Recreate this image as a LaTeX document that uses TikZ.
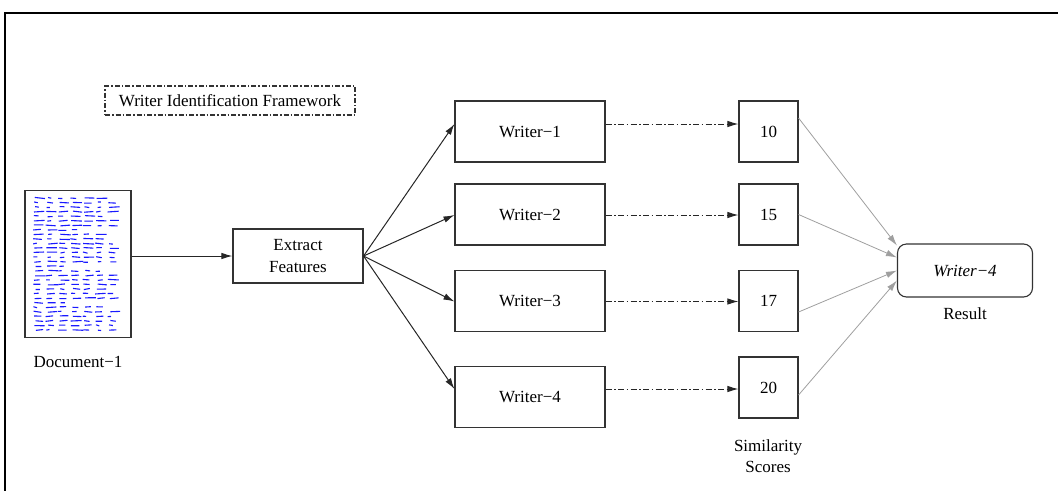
\documentclass[tikz,border=0pt]{standalone}
\usepackage{fontspec}
\setmainfont{Liberation Serif}
\usetikzlibrary{arrows.meta,calc}
\begin{document}
\begin{tikzpicture}[x=1pt,y=-1pt,
  box/.style={draw=black!80,line width=1.1pt,rectangle,inner sep=0pt,font=\fontsize{17}{22}\selectfont,align=center},
  lbl/.style={font=\fontsize{17}{21}\selectfont,align=center,inner sep=0pt},
  arr/.style={-{Latex[length=11pt,width=6.5pt]},line width=1pt,black!85},
  dd/.style={arr,dash pattern=on 6pt off 2.5pt on 1.5pt off 2.5pt},
  gry/.style={-{Latex[length=11pt,width=6.5pt]},line width=0.8pt,gray!75}
]
\useasboundingbox (0,0) rectangle (1058,491);
% frame
\draw[line width=2.6pt] (1058,13) -- (5,13) -- (5,491);
% title
\node[box,dash pattern=on 5pt off 2pt on 1.5pt off 2pt,minimum width=250pt,minimum height=29pt] (title) at (230,100.5) {Writer Identification Framework};
% document
\node[box,fill=white,minimum width=106pt,minimum height=147pt] (doc) at (78,264) {};
\pgfmathsetseed{12}
\foreach \i in {0,...,29}{
  \pgfmathsetmacro\yy{198+\i*4.55}
  \pgfmathtruncatemacro\nw{ifthenelse(mod(\i,8)==7,3+rnd*2,6+rnd*2)}
  \foreach \j in {1,...,\nw}{
    \pgfmathsetmacro\xa{33+(\j-1)*12.4+rnd*3}
    \pgfmathsetmacro\xb{\xa+3+rnd*8}
    \pgfmathsetmacro\ya{\yy+rnd*1.2-0.6}
    \pgfmathsetmacro\yb{\yy+rnd*1.2-0.6}
    \draw[blue!90,line width=1.1pt] (\xa,\ya) -- (\xb,\yb);
  }
}
\node[lbl] (doclbl) at (78,362) {Document−1};
% extract
\node[box,minimum width=130pt,minimum height=54pt] (ext) at (298,256) {Extract\\Features};
% writers
\node[box,minimum width=150pt,minimum height=61pt] (w1) at (530,131.5) {Writer−1};
\node[box,minimum width=150pt,minimum height=61pt] (w2) at (530,214.5) {Writer−2};
\node[box,minimum width=150pt,minimum height=61pt] (w3) at (530,301) {Writer−3};
\node[box,minimum width=150pt,minimum height=61pt] (w4) at (530,397) {Writer−4};
% scores
\node[box,minimum width=59pt,minimum height=61pt] (s1) at (768.5,131.5) {10};
\node[box,minimum width=59pt,minimum height=61pt] (s2) at (768.5,214.5) {15};
\node[box,minimum width=59pt,minimum height=61pt] (s3) at (768.5,301) {17};
\node[box,minimum width=59pt,minimum height=61pt] (s4) at (768.5,387.5) {20};
\node[lbl] (simlbl) at (768,456) {Similarity\\Scores};
% result
\node[box,rounded corners=9pt,minimum width=135pt,minimum height=53pt] (res) at (965,270.5) {\textit{Writer−4}};
\node[lbl] (reslbl) at (965,314) {Result};
% row coordinates
\coordinate (r1) at (0,124);
\coordinate (r2) at (0,215);
\coordinate (r3) at (0,301.5);
\coordinate (r4) at (0,389);
% connectors
\draw[arr] (doc.east |- ext) -- (ext.west);
\draw[arr] (ext.east) -- (w1.west |- r1);
\draw[arr] (ext.east) -- (w2.west |- r2);
\draw[arr] (ext.east) -- (w3.west |- r3);
\draw[arr] (ext.east) -- (w4.west |- r4);
\draw[dd] (w1.east |- r1) -- (s1.west |- r1);
\draw[dd] (w2.east |- r2) -- (s2.west |- r2);
\draw[dd] (w3.east |- r3) -- (s3.west |- r3);
\draw[dd] (w4.east |- r4) -- (s4.west |- r4);
\draw[gry] ([yshift=13.5pt]s1.east) -- ([yshift=25pt]res.west);
\draw[gry] ([yshift=0pt]s2.east) -- ([yshift=13pt]res.west);
\draw[gry] ([yshift=-11pt]s3.east) -- ([yshift=0pt]res.west);
\draw[gry] ([yshift=-7.5pt]s4.east) -- ([yshift=-10pt]res.west);
\end{tikzpicture}
\end{document}
